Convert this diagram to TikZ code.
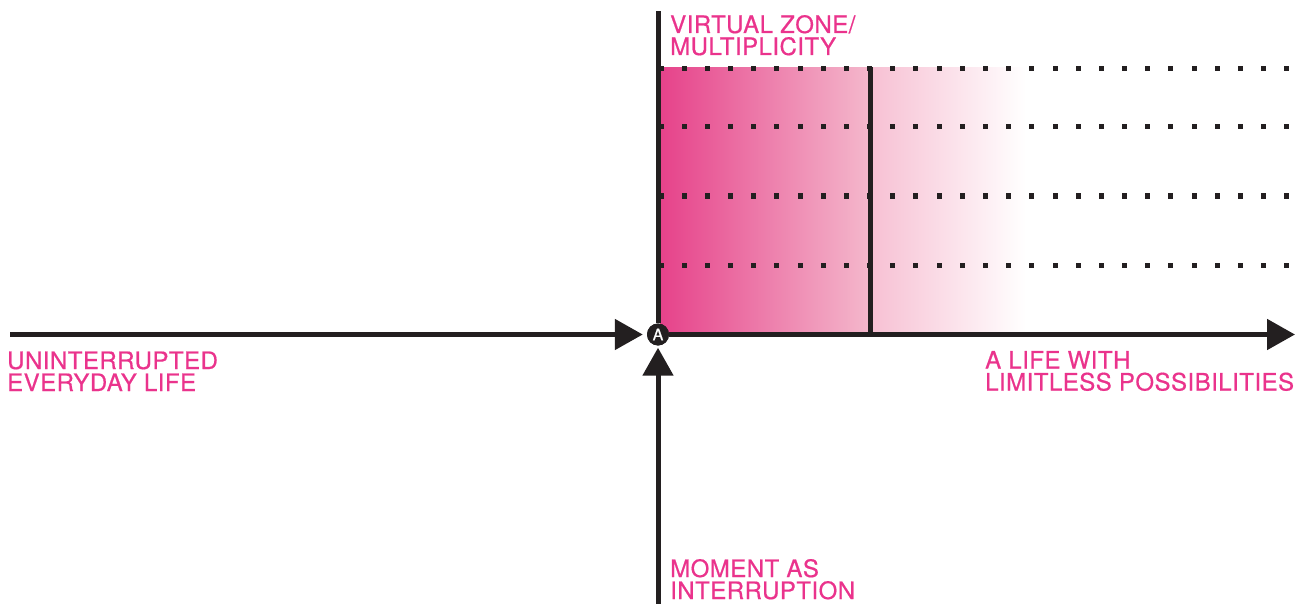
\documentclass[tikz,border=0pt]{standalone}
\usepackage{fontspec}
\setmainfont{TeX Gyre Heros}
\newfontfamily\labfont{TeX Gyre Heros}[FakeBold=0.6,LetterSpace=2]
\newfontfamily\markfont{TeX Gyre Heros}[FakeBold=0.8]
\usetikzlibrary{arrows.meta}
\definecolor{ink}{RGB}{35,31,32}
\definecolor{pinktext}{RGB}{234,51,140}
\definecolor{pinkdark}{RGB}{230,66,138}
\definecolor{pinkmid}{RGB}{244,184,204}
\definecolor{pinklight}{RGB}{247,192,211}
\tikzset{
  axis/.style={draw=ink, line width=5pt},
  arrowline/.style={axis, -{Triangle[length=28pt,width=30pt]}},
  label/.style={text=pinktext, inner sep=0pt, align=left, anchor=base west,
    font=\labfont\fontsize{24}{22}\selectfont},
  dotc/.style={fill=ink},
  marker/.style={circle, fill=ink, inner sep=0pt, minimum size=22pt, text=white,
    font=\markfont\fontsize{16}{16}\selectfont},
}
\begin{document}
\begin{tikzpicture}[x=1pt,y=-1pt]
\useasboundingbox (0,0) rectangle (1308,604);
% shaded zone
\shade[left color=pinkdark, right color=pinkmid] (660,68) rectangle (870,334);
\shade[left color=pinklight, right color=white] (870,68) rectangle (1026,334);
% dotted rows
\foreach \r in {69,127,196,265}
  \foreach \k in {0,...,27}
    \fill[dotc] ({661+\k*23.18-2.5},{\r-2.5}) rectangle ++(5,5);
% centre marker
\node[marker] (A) at (658,334.5) {A};
\coordinate (L) at (10,334.5);
\coordinate (R) at (1295,334.5);
\coordinate (B) at (658,604);
\coordinate (T) at (658,11);
\coordinate (Vtop) at (870,67);
\coordinate (Vbot) at (870,334.5);
% axes
\draw[arrowline, shorten >=4pt] (L) -- (A.west);
\draw[arrowline, shorten >=2pt] (B) -- (A.south);
\draw[arrowline] (A.east) -- (R);
\draw[axis] (A.north) -- (T);
\draw[axis] (Vtop) -- (Vbot);
\node[marker] at (A) {A};
% labels
\node[label] (lv) at (670,55) {VIRTUAL ZONE/\\MULTIPLICITY};
\node[label] (lu) at (7,391) {UNINTERRUPTED\\EVERYDAY LIFE};
\node[label] (ll) at (985,390.5) {A LIFE WITH\\LIMITLESS POSSIBILITIES};
\node[label] (lm) at (670,599) {MOMENT AS\\INTERRUPTION};
\end{tikzpicture}
\end{document}
